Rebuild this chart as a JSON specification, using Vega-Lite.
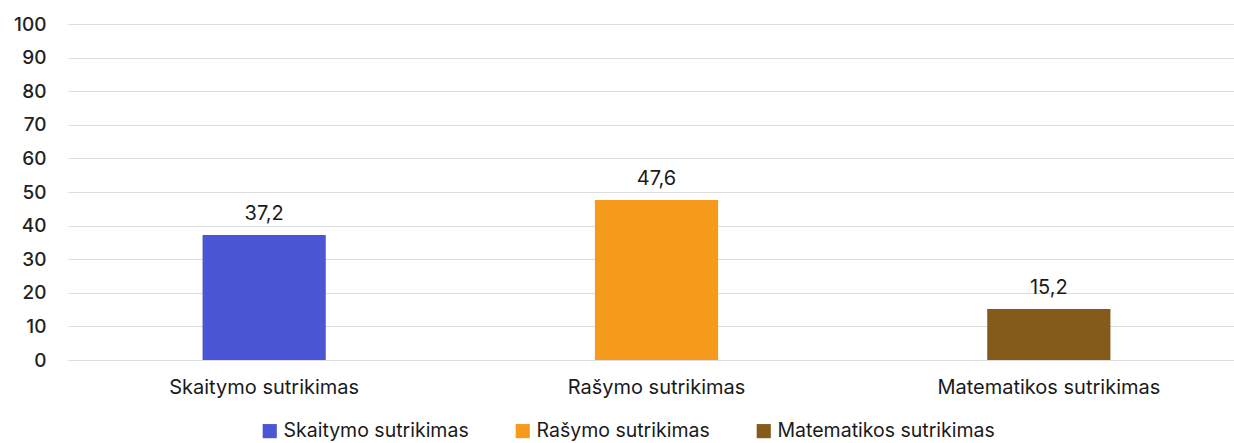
{
  "$schema": "https://vega.github.io/schema/vega-lite/v6.json",
  "width": 1177,
  "height": 336,
  "autosize": {"type": "none"},
  "padding": {"left": 68, "top": 24, "right": 0, "bottom": 83},
  "background": "white",
  "config": {
    "locale": {"number": {"decimal": ",", "thousands": " ", "grouping": [3], "currency": ["", " €"]}},
    "view": {"stroke": null},
    "font": "Inter",
    "scale": {"bandPaddingInner": 0.686, "bandPaddingOuter": 0.343}
  },
  "data": {
    "values": [
      {"category": "Skaitymo sutrikimas", "value": 37.2},
      {"category": "Rašymo sutrikimas", "value": 47.6},
      {"category": "Matematikos sutrikimas", "value": 15.2}
    ]
  },
  "encoding": {
    "x": {
      "field": "category",
      "type": "nominal",
      "sort": null,
      "axis": {"title": null, "labelAngle": 0, "labelFontSize": 20, "labelLimit": 0, "labelColor": "#1a1a1a", "labelPadding": 17, "domain": false, "ticks": false}
    },
    "y": {
      "field": "value",
      "type": "quantitative",
      "scale": {"domain": [0, 100]},
      "axis": {"title": null, "values": [0,10,20,30,40,50,60,70,80,90,100], "labelOverlap": false, "labelFontSize": 19, "labelFontWeight": 500, "labelColor": "#222", "labelPadding": 22, "domain": false, "ticks": false, "gridColor": "#dddddd"}
    }
  },
  "layer": [
    {
      "mark": {"type": "bar"},
      "encoding": {
        "color": {
          "field": "category",
          "type": "nominal",
          "sort": null,
          "scale": {"domain": ["Skaitymo sutrikimas", "Rašymo sutrikimas", "Matematikos sutrikimas"], "range": ["#4a56d3", "#f59a1b", "#855b1b"]},
          "legend": {"title": null, "orient": "none", "legendX": 192, "legendY": 397, "direction": "horizontal", "symbolType": "square", "symbolSize": 200, "symbolStrokeWidth": 0, "symbolOpacity": 1, "labelFontSize": 19.5, "labelLimit": 0, "labelColor": "#1a1a1a", "columnPadding": 44, "labelOffset": 4}
        }
      }
    },
    {
      "mark": {"type": "text", "dy": -11, "fontSize": 20, "color": "#1a1a1a", "baseline": "bottom"},
      "encoding": {"text": {"field": "value", "type": "quantitative", "format": ".1f"}}
    }
  ]
}
